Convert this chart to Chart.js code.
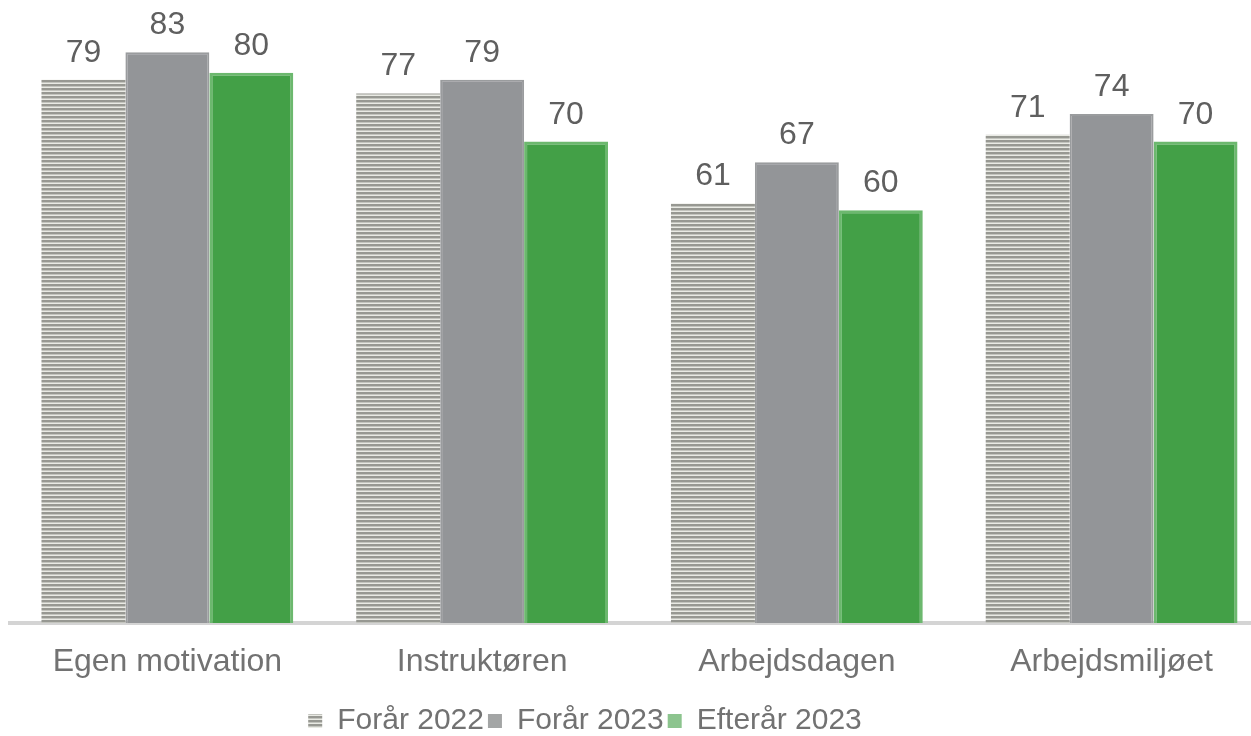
<!DOCTYPE html>
<html>
<head>
<meta charset="utf-8">
<script src="https://cdn.jsdelivr.net/npm/chart.js@4"></script>
<style>
  html, body { margin: 0; padding: 0; background: #fff; overflow: hidden; }
  #wrap { position: relative; width: 1251px; height: 736px; overflow: hidden; }
  #c { position: absolute; left: 0; top: 0; }
</style>
</head>
<body>
<div id="wrap"><canvas id="c" width="1270" height="736"></canvas></div>
<script>
const categories = ["Egen motivation", "Instruktøren", "Arbejdsdagen", "Arbejdsmiljøet"];
const seriesNames = ["Forår 2022", "Forår 2023", "Efterår 2023"];
const forar2022 = [79, 77, 61, 71];
const forar2023 = [83, 79, 67, 74];
const efterar2023 = [80, 70, 60, 70];

function stripePattern() {
  const p = document.createElement('canvas');
  p.width = 8; p.height = 4;
  const g = p.getContext('2d');
  g.fillStyle = '#e9eae4'; g.fillRect(0, 0, 8, 4);
  g.fillStyle = '#979892'; g.fillRect(0, 0, 8, 2);
  g.fillStyle = '#c3c4be'; g.fillRect(0, 2, 8, 1);
  return g.createPattern(p, 'repeat');
}
const ctx = document.getElementById('c').getContext('2d');
const stripes = stripePattern();

const legendFill = [stripes, '#a3a5a5', '#8cc48e'];
const FONT = '"Liberation Sans", Arial, sans-serif';

const valueLabels = {
  id: 'valueLabels',
  afterDatasetsDraw(chart) {
    const c = chart.ctx;
    c.save();
    c.font = '32px ' + FONT;
    c.fillStyle = '#5f5f5f';
    c.textAlign = 'center';
    c.textBaseline = 'alphabetic';
    chart.data.datasets.forEach((ds, i) => {
      chart.getDatasetMeta(i).data.forEach((bar, j) => {
        c.fillText(String(ds.data[j]), bar.x, bar.y - 18);
      });
    });
    c.restore();
  }
};

const shiftLegend = {
  id: 'shiftLegend',
  beforeDraw(chart) {
    const l = chart.legend;
    if (!l || l._shifted) return;
    const dx = 585 - (l.left + l.right) / 2;
    l.left += dx; l.right += dx;
    l.top += 10; l.bottom += 10;
    l._shifted = true;
  },
  afterLayout(chart) { if (chart.legend) chart.legend._shifted = false; }
};

new Chart(ctx, {
  type: 'bar',
  data: {
    labels: categories,
    datasets: [
      { label: seriesNames[0], data: forar2022, backgroundColor: stripes, borderWidth: 0 },
      { label: seriesNames[1], data: forar2023, backgroundColor: '#939598', borderColor: '#9a9c9e', borderWidth: 2 },
      { label: seriesNames[2], data: efterar2023, backgroundColor: '#43a047', borderColor: '#6cb86e', borderWidth: 3 }
    ]
  },
  options: {
    responsive: false,
    animation: false,
    events: [],
    layout: { padding: { left: 10, right: 1, top: 4, bottom: 0 } },
    scales: {
      x: {
        grid: { display: false, drawTicks: false },
        border: { display: true, color: '#d4d4d4', width: 4 },
        ticks: {
          color: '#727272',
          padding: 20,
          font: { family: FONT, size: 32 }
        },
        afterFit(scale) { scale.height = 69; }
      },
      y: {
        display: false,
        min: 0, max: 90
      }
    },
    datasets: { bar: { categoryPercentage: 0.8, barPercentage: 1.0 } },
    plugins: {
      tooltip: { enabled: false },
      legend: {
        position: 'bottom',
        labels: {
          color: '#727272',
          boxWidth: 14,
          boxHeight: 14,
          padding: 4,
          font: { family: FONT, size: 30 },
          generateLabels(chart) {
            return chart.data.datasets.map((ds, i) => ({
              text: ds.label,
              fillStyle: legendFill[i],
              strokeStyle: 'rgba(0,0,0,0)',
              lineWidth: 0,
              fontColor: '#727272',
              datasetIndex: i,
              hidden: false
            }));
          }
        }
      }
    }
  },
  plugins: [valueLabels, shiftLegend]
});
</script>
</body>
</html>
